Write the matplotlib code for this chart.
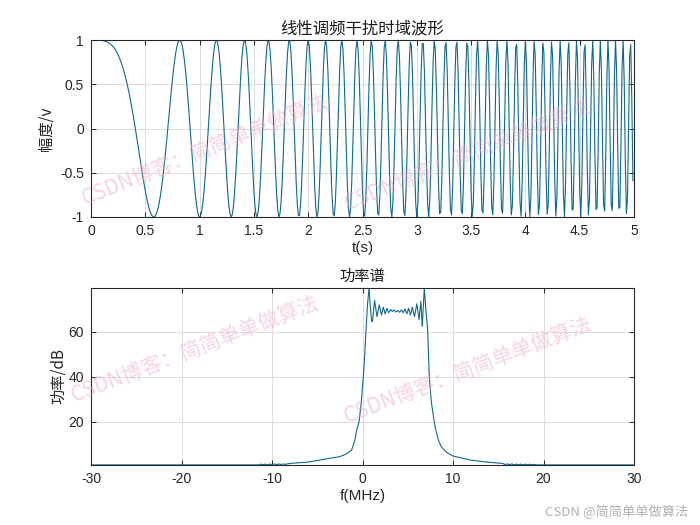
import numpy as np
import matplotlib
matplotlib.use("Agg")
import matplotlib.pyplot as plt

# ---------------- data ----------------
# time-domain linear FM jamming waveform (parameters:
# first minimum at t~0.577 s, first maximum at t~0.816 s -> chirp rate 3 Hz/s)
t_start = 0.0
t_stop = 4.99
t_step = 0.01
chirp_rate = 3.0

top_xticks = [0, 0.5, 1, 1.5, 2, 2.5, 3, 3.5, 4, 4.5, 5]
top_yticks = [-1, -0.5, 0, 0.5, 1]
top_yticklabels = ["-1", "-0.5", "0", "0.5", "1"]

# power spectrum
spec_freq = [-30, -11.5, -11.25, -11.0, -10.75, -10.5, -10.25, -10.0, -9.75, -9.5, -9.25,
             -9.0, -8.75, -8.5, -8.25, -8.0, -6.0, -4.7, -3.6, -2.5, -1.8, -1.2, -0.83,
             -0.64, -0.39, -0.15, 0.09, 0.25, 0.39, 0.55, 0.72, 0.85, 1.0, 1.1, 1.33,
             1.6, 1.85, 2.1, 2.3, 2.5, 2.7, 2.9, 3.1, 3.3, 3.5, 3.7, 3.9, 4.1, 4.3,
             4.5, 4.7, 4.9, 5.1, 5.3, 5.5, 5.75, 6.0, 6.25, 6.45, 6.6, 6.83, 7.0,
             7.2, 7.38, 7.6, 7.93, 8.1, 8.38, 8.7, 9.3, 10.0, 11.9, 13.5, 15.5,
             15.75, 16.0, 16.25, 16.5, 16.75, 17.0, 17.25, 17.5, 17.75, 18.0, 18.25,
             18.5, 18.75, 19.0, 19.1, 30]
spec_db = [0.95, 0.95, 1.3, 1.0, 1.3, 1.0, 1.3, 1.05, 1.35, 1.05, 1.35, 1.1, 1.4, 1.15,
           1.45, 1.6, 2.2, 3.1, 3.9, 4.6, 5.8, 7.6, 12.0,
           16.4, 20.0, 28.0, 40.0, 50.0, 61.0, 72.0, 79.5, 72.0, 65.0, 64.5, 74.0,
           66.8, 72.0, 67.5, 71.0, 68.0, 70.5, 68.5, 70.0, 69.0, 69.8, 68.8, 69.6, 68.7, 69.8,
           68.5, 70.2, 68.0, 70.5, 67.5, 71.0, 66.8, 72.5, 65.5, 73.6, 62.4, 79.5, 70.0,
           61.0, 40.0, 29.0, 20.0, 16.4, 12.0, 9.0, 6.5, 4.9, 3.1, 2.3, 1.6,
           1.1, 1.4, 1.05, 1.35, 1.05, 1.3, 1.0, 1.3, 1.0, 1.25, 1.0, 1.25, 1.0, 1.2, 0.95, 0.95]

bot_xticks = [-30, -20, -10, 0, 10, 20, 30]
bot_yticks = [20, 40, 60]

# ---------------- figure ----------------
W, H = 700, 525
fig = plt.figure(figsize=(W / 100, H / 100), dpi=100)
fig.patch.set_facecolor("white")

line_color = "#10698a"
tick_color = "#262626"
cjk = ["Noto Sans CJK SC", "DejaVu Sans"]
latin = ["Liberation Sans", "DejaVu Sans"]


def style(ax):
    ax.grid(True, color="#dcdcdc", linewidth=0.7)
    ax.set_axisbelow(True)
    for s in ax.spines.values():
        s.set_color("#262626")
        s.set_linewidth(0.8)
    ax.tick_params(direction="in", length=3.5, width=0.7, colors=tick_color,
                   top=True, right=True, labelsize=10, pad=5)
    for lab in ax.get_xticklabels() + ax.get_yticklabels():
        lab.set_family(latin)


ax1 = fig.add_axes([91 / W, 1 - 217 / H, 543 / W, 177 / H])
t = np.arange(t_start, t_stop + t_step / 2, t_step)
sig = np.cos(np.pi * chirp_rate * t ** 2)
ax1.plot(t, sig, color=line_color, linewidth=0.8)
ax1.set_xlim(0, 5)
ax1.set_ylim(-1, 1)
ax1.set_xticks(top_xticks)
ax1.set_xticklabels([f"{v:g}" for v in top_xticks])
ax1.set_yticks(top_yticks)
ax1.set_yticklabels(top_yticklabels)
style(ax1)
ax1.set_title("线性调频干扰时域波形", family=cjk, fontsize=11.8, color="#1a1a1a", pad=5)
ax1.set_xlabel("t(s)", family=latin, fontsize=11, color=tick_color, labelpad=2)
ax1.set_ylabel("幅度/v", family=cjk, fontsize=11, color=tick_color, labelpad=4)

ax2 = fig.add_axes([91 / W, 1 - 465 / H, 543 / W, 177 / H])
ax2.plot(spec_freq, spec_db, color=line_color, linewidth=0.8)
ax2.set_xlim(-30, 30)
ax2.set_ylim(0.9, 79.5)
ax2.set_xticks(bot_xticks)
ax2.set_xticklabels([f"{v:g}" for v in bot_xticks])
ax2.set_yticks(bot_yticks)
style(ax2)
ax2.set_title("功率谱", family=cjk, fontsize=11, color="#1a1a1a", pad=5)
ax2.set_xlabel("f(MHz)", family=latin, fontsize=11, color=tick_color, labelpad=2)
ax2.set_ylabel("功率/dB", family=cjk, fontsize=11, color=tick_color, labelpad=1)

# watermarks
wm = "CSDN博客：简简单单做算法"
for (x, y, ang) in [(205, 150, 22), (468, 155, 22), (195, 349, 21), (468, 370, 21)]:
    fig.text(x / W, 1 - y / H, wm, family=cjk, fontsize=15, color="#f2a9c4",
             alpha=0.5, rotation=ang, ha="center", va="center")
fig.text(688 / W, 1 - 512 / H, "CSDN @简简单单做算法", family=cjk, fontsize=9.5,
         color="#b0b0b0", ha="right", va="center")

fig.savefig("out.png", dpi=100)
